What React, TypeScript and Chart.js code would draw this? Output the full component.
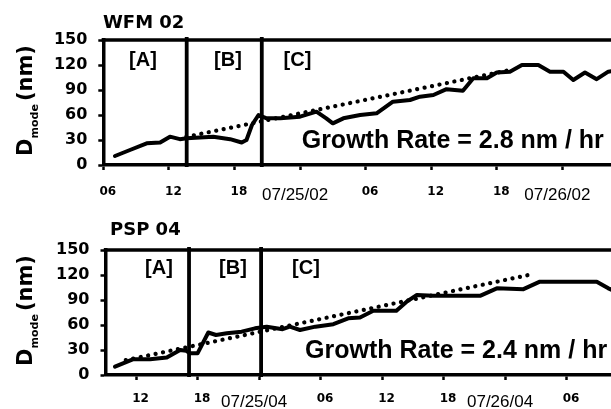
import { useEffect, useRef } from 'react';
import { Chart, registerables } from 'chart.js';

Chart.register(...registerables);

// ---------- WFM 02 (top panel) ----------
const wfmHours = [7.07, 8.44, 9.97, 11.2, 12.1, 13.0, 13.63, 16.06, 17.6, 18.66, 19.1, 19.6, 20.2, 20.95, 22.2, 24.0, 25.5, 26.4, 27.0, 27.96, 29.5, 31.0, 32.5, 34.06, 34.97, 36.2, 37.4, 38.9, 39.85, 41.1, 42.0, 43.2, 44.3, 45.8, 46.87, 48.1, 49.0, 50.07, 51.14, 52.2, 52.7];
const wfmDmode = [10.8, 18, 26, 27, 34, 31, 32, 34, 31, 27, 30, 48, 60, 56, 56, 58, 64, 56, 50, 56, 60, 62, 76, 78, 82, 84, 91, 89, 104, 104, 111, 112, 120, 120, 112, 112, 102, 111, 103, 112, 113];
const wfmFitHours = [13.6, 43.5];
const wfmFitDmode = [33.8, 114.8];
const wfmTickHours = [6, 12, 18, 24, 30, 36, 42, 48];
const wfmTickLabels = ['06', '12', '18', '07/25/02', '06', '12', '18', '07/26/02'];
const wfmPhaseBounds = [13.63, 20.5];

// ---------- PSP 04 (bottom panel) ----------
const pspHours = [9.95, 11.74, 13.37, 15.0, 16.3, 16.9, 17.27, 18.0, 19.05, 19.8, 20.85, 22.3, 23.6, 24.75, 26.3, 27.0, 28.0, 29.5, 31.25, 32.7, 33.85, 35.15, 37.4, 38.4, 39.4, 41.0, 45.56, 47.2, 49.8, 51.4, 56.95, 58.08, 58.6];
const pspDmode = [10, 19, 19, 21, 30, 29, 26, 26, 51, 48, 50, 52, 56, 58, 55, 58, 54, 58, 61, 68, 69, 77, 77, 88, 96, 95, 95, 104, 103, 112, 112, 104, 101];
const pspFitHours = [11, 50.8];
const pspFitDmode = [17.8, 121.3];
const pspTickHours = [12, 18, 24, 30, 36, 42, 48, 54];
const pspTickLabels = ['12', '18', '07/25/04', '06', '12', '18', '07/26/04', '06'];
const pspPhaseBounds = [17.17, 24.2];

const phaseNames = ['[A]', '[B]', '[C]'];
const yTicks = [0, 30, 60, 90, 120, 150];

type Panel = {
  title: string;
  hours: number[];
  dmode: number[];
  fitHours: number[];
  fitDmode: number[];
  tickHours: number[];
  tickLabels: string[];
  phaseBounds: number[];
  rateText: string;
  xMin: number;
  xMax: number;
  canvasH: number;
  padTop: number;
  yW: number;
  xH: number;
  xPad: number;
  titleX: number;
  titleBase: number;
  phaseX: number[];
  phaseBase: number;
  rateX: number;
  rateBase: number;
};

const panels: Panel[] = [
  {
    title: 'WFM 02', hours: wfmHours, dmode: wfmDmode, fitHours: wfmFitHours, fitDmode: wfmFitDmode,
    tickHours: wfmTickHours, tickLabels: wfmTickLabels, phaseBounds: wfmPhaseBounds,
    rateText: 'Growth Rate = 2.8 nm / hr', xMin: 6, xMax: 52.45,
    canvasH: 205, padTop: 40, yW: 103.3, xH: 40, xPad: 15,
    titleX: 103, titleBase: 28, phaseX: [143, 228, 297.5], phaseBase: 66, rateX: 301.7, rateBase: 147.5,
  },
  {
    title: 'PSP 04', hours: pspHours, dmode: pspDmode, fitHours: pspFitHours, fitDmode: pspFitDmode,
    tickHours: pspTickHours, tickLabels: pspTickLabels, phaseBounds: pspPhaseBounds,
    rateText: 'Growth Rate = 2.4 nm / hr', xMin: 9.02, xMax: 58.34,
    canvasH: 204, padTop: 45, yW: 105.5, xH: 34, xPad: 12,
    titleX: 110, titleBase: 30, phaseX: [159, 233, 306], phaseBase: 69, rateX: 305, rateBase: 152.5,
  },
];

function makeDecor(p: Panel) {
  return {
    id: 'decor',
    afterDraw(chart: any) {
      const ctx = chart.ctx as CanvasRenderingContext2D;
      const a = chart.chartArea;
      const xs = chart.scales.x;
      ctx.save();
      ctx.strokeStyle = '#000';
      ctx.fillStyle = '#000';
      // top frame line
      ctx.lineWidth = 3.5;
      ctx.beginPath();
      ctx.moveTo(a.left - 1.75, a.top);
      ctx.lineTo(chart.width, a.top);
      ctx.stroke();
      // phase boundaries
      ctx.lineWidth = 3.8;
      for (const h of p.phaseBounds) {
        const px = xs.getPixelForValue(h);
        ctx.beginPath();
        ctx.moveTo(px, a.top - 3);
        ctx.lineTo(px, a.bottom + 2);
        ctx.stroke();
      }
      // phase labels
      ctx.font = 'bold 20px "Liberation Sans", Arial, sans-serif';
      ctx.textAlign = 'center';
      ctx.textBaseline = 'alphabetic';
      phaseNames.forEach((n, i) => ctx.fillText(n, p.phaseX[i], p.phaseBase));
      // growth rate annotation
      ctx.font = 'bold 25px "Liberation Sans", Arial, sans-serif';
      ctx.textAlign = 'left';
      ctx.fillText(p.rateText, p.rateX, p.rateBase);
      // panel title
      ctx.font = 'bold 18px "DejaVu Sans", sans-serif';
      ctx.fillText(p.title, p.titleX, p.titleBase);
      // y axis title: D_mode (nm)
      const cy = (a.top + a.bottom) / 2 - 2;
      ctx.translate(31.7, cy);
      ctx.rotate(-Math.PI / 2);
      const big = 'bold 21px "DejaVu Sans", sans-serif';
      const small = 'bold 11px "DejaVu Sans", sans-serif';
      ctx.font = big;
      const wD = ctx.measureText('D').width;
      const wNm = ctx.measureText('(nm)').width;
      ctx.font = small;
      const wSub = ctx.measureText('mode').width;
      const gap = 3;
      const total = wD + wSub + gap + wNm;
      let x0 = -total / 2;
      ctx.font = big;
      ctx.fillText('D', x0, 0);
      x0 += wD;
      ctx.font = small;
      ctx.fillText('mode', x0, 6.3);
      x0 += wSub + gap;
      ctx.font = big;
      ctx.fillText('(nm)', x0, 0);
      ctx.restore();
    },
  };
}

function PanelChart({ p, top }: { p: Panel; top: number }) {
  const ref = useRef<HTMLCanvasElement | null>(null);
  useEffect(() => {
    if (!ref.current) return;
    const solid = p.hours.map((h, i) => ({ x: h, y: p.dmode[i] }));
    const fit = p.fitHours.map((h, i) => ({ x: h, y: p.fitDmode[i] }));
    const hourFont = { family: 'DejaVu Sans', size: 12, weight: 'bold' };
    const dateFont = { family: 'Liberation Sans', size: 17, weight: 'normal' };
    const isDate = (s: any) => String(s).includes('/');
    const chart = new Chart(ref.current, {
      type: 'line',
      data: {
        datasets: [
          {
            data: fit,
            borderColor: '#000',
            borderWidth: 4.2,
            borderDash: [0.1, 7.5],
            borderCapStyle: 'round',
            pointRadius: 0,
            tension: 0,
          },
          {
            data: solid,
            borderColor: '#000',
            borderWidth: 4,
            borderJoinStyle: 'round',
            borderCapStyle: 'round',
            pointRadius: 0,
            tension: 0,
          },
        ],
      },
      options: {
        animation: false,
        responsive: false,
        devicePixelRatio: 1,
        layout: { padding: { top: p.padTop, left: 0, right: 0, bottom: 0 } },
        plugins: { legend: { display: false }, tooltip: { enabled: false }, title: { display: false } },
        scales: {
          x: {
            type: 'linear',
            min: p.xMin,
            max: p.xMax,
            afterFit: (s: any) => {
              s.height = p.xH;
              s.paddingLeft = 0;
              s.paddingRight = 0;
            },
            afterBuildTicks: (s: any) => { s.ticks = p.tickHours.map((v) => ({ value: v })); },
            border: { display: true, color: '#000', width: 3.5 },
            grid: { display: true, drawOnChartArea: false, drawTicks: true, tickLength: 5, tickColor: '#000', tickWidth: 2.5 },
            ticks: {
              autoSkip: false,
              maxRotation: 0,
              minRotation: 0,
              padding: p.xPad,
              labelOffset: 4.5,
              color: '#000',
              callback: (v: any) => {
                const i = p.tickHours.indexOf(Number(v));
                if (i < 0) return '';
                const t = p.tickLabels[i];
                return isDate(t) ? t + '    ' : t;
              },
              font: (c: any) => (c.tick && isDate(c.tick.label) ? dateFont : hourFont),
            },
          },
          y: {
            type: 'linear',
            min: 0,
            max: 150,
            afterFit: (s: any) => { s.width = p.yW; },
            afterBuildTicks: (s: any) => { s.ticks = yTicks.map((v) => ({ value: v })); },
            border: { display: true, color: '#000', width: 3.5 },
            grid: { display: true, drawOnChartArea: false, drawTicks: true, tickLength: 5, tickColor: '#000', tickWidth: 2.5 },
            ticks: {
              padding: 11,
              color: '#000',
              font: { family: 'DejaVu Sans', size: 16, weight: 'bold' },
            },
          },
        },
      },
      plugins: [makeDecor(p)],
    } as any);
    return () => chart.destroy();
  }, [p]);
  return (
    <canvas
      ref={ref}
      width={611}
      height={p.canvasH}
      style={{ position: 'absolute', left: 0, top, width: 611, height: p.canvasH, display: 'block' }}
    />
  );
}

export default function App() {
  return (
    <div style={{ position: 'absolute', left: 0, top: 0, width: 611, height: 409, background: '#fff', overflow: 'hidden' }}>
      <PanelChart p={panels[0]} top={0} />
      <PanelChart p={panels[1]} top={205} />
    </div>
  );
}
